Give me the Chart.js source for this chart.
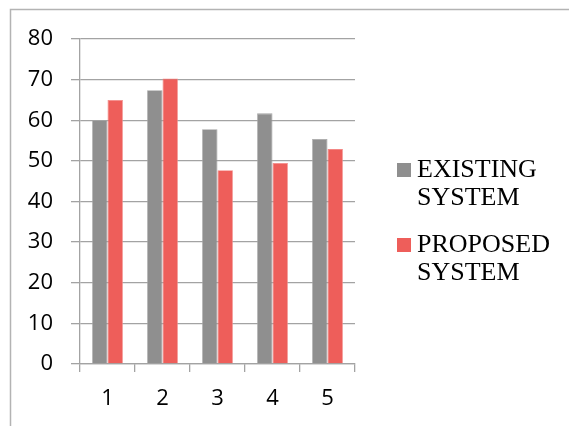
<!DOCTYPE html>
<html>
<head>
<meta charset="utf-8">
<script src="https://cdn.jsdelivr.net/npm/chart.js@4/dist/chart.umd.min.js"></script>
<style>
  html, body { margin: 0; padding: 0; background: #fff; }
  #wrap { position: relative; width: 569px; height: 426px; }
</style>
</head>
<body>
<div id="wrap"><canvas id="c" width="569" height="426"></canvas></div>
<script>
// Categories and series
const categories = ['1', '2', '3', '4', '5'];
const existingSystem = [60, 67.4, 57.8, 61.7, 55.4];
const proposedSystem = [65, 70.3, 47.7, 49.5, 52.9];
const seriesNames = [['EXISTING', 'SYSTEM'], ['PROPOSED', 'SYSTEM']];
const yTicks = [0, 10, 20, 30, 40, 50, 60, 70, 80];

const GREY = '#8f8f8f';
const RED = '#ee5e5a';
const AXIS = '#a3a3a3';

// Outer frame and the two-line legend on the right
const framePlugin = {
  id: 'frame',
  beforeDraw(chart) {
    const ctx = chart.ctx;
    ctx.save();
    ctx.fillStyle = '#fff';
    ctx.fillRect(0, 0, chart.width, chart.height);
    ctx.strokeStyle = '#b3b3b3';
    ctx.lineWidth = 1.5;
    ctx.beginPath();
    ctx.moveTo(10.5, chart.height);
    ctx.lineTo(10.5, 9.5);
    ctx.lineTo(chart.width, 9.5);
    ctx.stroke();
    ctx.restore();
  }
};

const legendPlugin = {
  id: 'sideLegend',
  afterDraw(chart) {
    const ctx = chart.ctx;
    ctx.save();
    ctx.font = '26px "Liberation Serif", "Times New Roman", serif';
    ctx.textBaseline = 'alphabetic';
    ctx.fillStyle = '#000';
    const x0 = 397, box = 14, textX = 417;
    const firstBaseline = 177, lineGap = 28, itemGap = 75;
    chart.data.datasets.forEach((ds, i) => {
      const base = firstBaseline + i * itemGap;
      ctx.fillStyle = ds.backgroundColor;
      ctx.fillRect(x0, base - 14, box, box);
      ctx.fillStyle = '#000';
      ds.label.forEach((line, j) => {
        ctx.fillText(line, textX, base + j * lineGap);
      });
    });
    ctx.restore();
  }
};

new Chart(document.getElementById('c'), {
  type: 'bar',
  data: {
    labels: categories,
    datasets: [
      { label: seriesNames[0], data: existingSystem, backgroundColor: GREY,
        borderColor: '#a4a4a4', borderWidth: 0.8 },
      { label: seriesNames[1], data: proposedSystem, backgroundColor: RED,
        borderColor: '#f38785', borderWidth: 0.8 }
    ]
  },
  options: {
    responsive: false,
    animation: false,
    devicePixelRatio: 1,
    layout: { padding: { left: 0, right: 214, top: 39, bottom: 0 } },
    datasets: { bar: { categoryPercentage: 0.56, barPercentage: 1 } },
    plugins: {
      legend: { display: false },
      tooltip: { enabled: false }
    },
    scales: {
      x: {
        grid: {
          offset: true,
          drawOnChartArea: false,
          drawTicks: true,
          tickLength: 8,
          color: AXIS,
          lineWidth: 1.3
        },
        border: { display: true, color: AXIS, width: 1.3 },
        ticks: {
          color: '#000',
          padding: 14,
          font: { family: '"Open Sans", sans-serif', size: 22 }
        },
        afterFit(scale) { scale.height = 62; }
      },
      y: {
        min: 0,
        max: 80,
        afterBuildTicks(scale) { scale.ticks = yTicks.map(v => ({ value: v })); },
        grid: {
          color: AXIS,
          lineWidth: 1.3,
          tickLength: 9,
          drawTicks: true
        },
        border: { display: true, color: AXIS, width: 1.3 },
        ticks: {
          color: '#000',
          padding: 18,
          font: { family: '"Open Sans", sans-serif', size: 22 }
        },
        afterFit(scale) { scale.width = 80; }
      }
    }
  },
  plugins: [framePlugin, legendPlugin]
});
</script>
</body>
</html>
